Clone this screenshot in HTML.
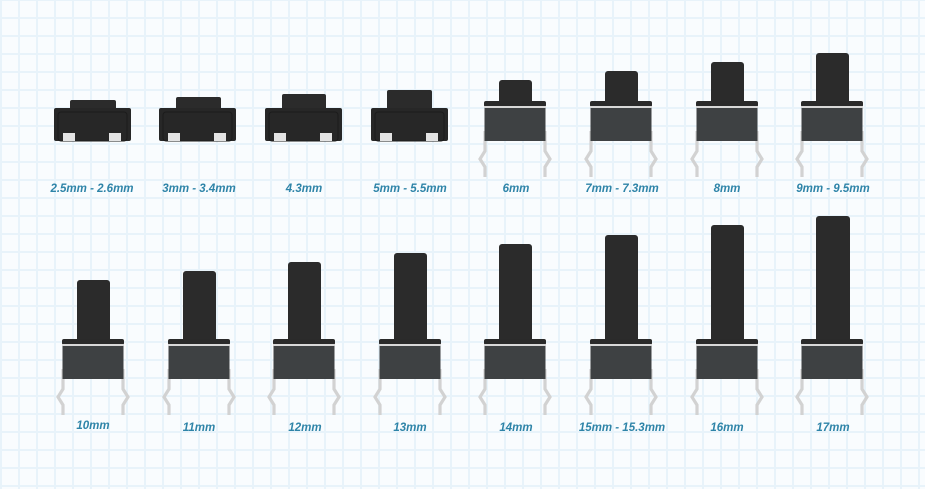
<!DOCTYPE html>
<html><head><meta charset="utf-8"><style>
html,body{margin:0;padding:0;}
body{width:925px;height:489px;overflow:hidden;background-color:#f9fcfe;
background-image:linear-gradient(to right,#e8f3fa 2px,transparent 2px),linear-gradient(to bottom,#e8f3fa 2px,transparent 2px);
background-size:18px 18px;background-position:0px -1px;}
svg{position:absolute;left:0;top:0}
text{font-family:"Liberation Sans",sans-serif;font-style:italic;font-weight:bold;font-size:11.5px;fill:#2e84a8;text-anchor:middle;letter-spacing:0px}
</style></head><body>
<svg width="925" height="489" viewBox="0 0 925 489">
<defs>
<g id="base">
 <path d="M-30,24 V44 L-35,52 L-30,60 V70 M30,24 V44 L35,52 L30,60 V70" fill="none" stroke="#d2d2d2" stroke-width="3.2"/>
 <rect x="-31" y="-6" width="62" height="6" rx="2" fill="#2a2a2a"/>
 <rect x="-31" y="-1" width="62" height="2" fill="#d8d8d8"/>
 <rect x="-30.5" y="1" width="61" height="33" fill="#3e4143"/>
</g>
<g id="smd">
 <rect x="-38" y="0" width="77" height="33" rx="2" fill="#272727"/>
 <rect x="-34" y="4" width="69" height="29" rx="3" fill="none" stroke="#1b1b1b" stroke-width="1"/>
 <rect x="-29" y="25" width="12" height="8" fill="#e4e4e4"/>
 <rect x="17" y="25" width="12" height="8" fill="#e4e4e4"/>
</g>
</defs>
<g fill="#2b2b2b">
 <rect x="70" y="100" width="46" height="10" rx="2"/><use href="#smd" x="92" y="108"/>
 <rect x="176" y="97" width="45" height="13" rx="2"/><use href="#smd" x="197" y="108"/>
 <rect x="282" y="94" width="44" height="16" rx="2"/><use href="#smd" x="303" y="108"/>
 <rect x="387" y="90" width="45" height="20" rx="2"/><use href="#smd" x="409" y="108"/>
 <rect x="499" y="80" width="33" height="26" rx="3"/><use href="#base" x="515" y="107"/>
 <rect x="605" y="71" width="33" height="35" rx="3"/><use href="#base" x="621" y="107"/>
 <rect x="711" y="62" width="33" height="44" rx="3"/><use href="#base" x="727" y="107"/>
 <rect x="816" y="53" width="33" height="53" rx="3"/><use href="#base" x="832" y="107"/>
 <rect x="77" y="280" width="33" height="64" rx="3"/><use href="#base" x="93" y="345"/>
 <rect x="183" y="271" width="33" height="73" rx="3"/><use href="#base" x="199" y="345"/>
 <rect x="288" y="262" width="33" height="82" rx="3"/><use href="#base" x="304" y="345"/>
 <rect x="394" y="253" width="33" height="91" rx="3"/><use href="#base" x="410" y="345"/>
 <rect x="499" y="244" width="33" height="100" rx="3"/><use href="#base" x="515" y="345"/>
 <rect x="605" y="235" width="33" height="109" rx="3"/><use href="#base" x="621" y="345"/>
 <rect x="711" y="225" width="33" height="119" rx="3"/><use href="#base" x="727" y="345"/>
 <rect x="816" y="216" width="34" height="128" rx="3"/><use href="#base" x="832" y="345"/>
</g>
<text x="92" y="192">2.5mm - 2.6mm</text>
<text x="199" y="192">3mm - 3.4mm</text>
<text x="304" y="192">4.3mm</text>
<text x="410" y="192">5mm - 5.5mm</text>
<text x="516" y="192">6mm</text>
<text x="622" y="192">7mm - 7.3mm</text>
<text x="727" y="192">8mm</text>
<text x="833" y="192">9mm - 9.5mm</text>
<text x="93" y="429">10mm</text>
<text x="199" y="431">11mm</text>
<text x="305" y="431">12mm</text>
<text x="410" y="431">13mm</text>
<text x="516" y="431">14mm</text>
<text x="622" y="431">15mm - 15.3mm</text>
<text x="727" y="431">16mm</text>
<text x="833" y="431">17mm</text>
</svg>
</body></html>
